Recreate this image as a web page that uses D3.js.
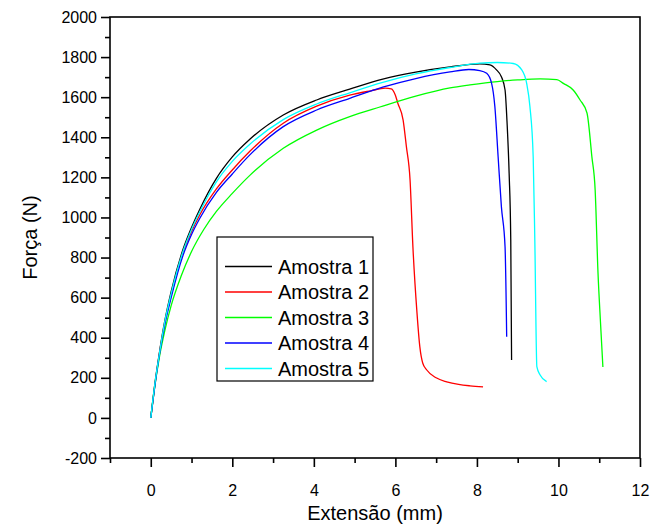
<!DOCTYPE html>
<html>
<head>
<meta charset="utf-8">
<script src="https://cdn.jsdelivr.net/npm/d3@7"></script>
<style>
  body { margin: 0; background: #fff; }
  svg { font-family: "Liberation Sans", Arial, sans-serif; }
</style>
</head>
<body>
<svg id="chart" width="650" height="527"></svg>
<script>
// series names and colours
var seriesNames = ["Amostra 1", "Amostra 2", "Amostra 3", "Amostra 4", "Amostra 5"];
var seriesColors = ["#000000", "#ff0000", "#00ff00", "#0000ff", "#00ffff"];

// [extensao (mm), forca (N)]
var amostra1 = [[0,0],[0.1,170],[0.2,310],[0.34,480],[0.5,630],[0.79,840],[1.0,950],[1.2,1040],[1.61,1195],
  [2.0,1302],[2.43,1390],[3.25,1511],[4.07,1586],[4.88,1640],[5.69,1690],[6.5,1725],[7.34,1751],[8.07,1766],
  [8.32,1761],[8.48,1736],[8.6,1702],[8.69,1636],[8.74,1470],[8.79,1220],[8.83,888],[8.85,289]];

var amostra2 = [[0,0],[0.1,165],[0.2,305],[0.35,480],[0.5,612],[0.79,825],[1.0,930],[1.2,1012],[1.61,1142],
  [2.0,1237],[2.43,1330],[3.25,1470],[4.07,1555],[4.88,1610],[5.4,1632],[5.75,1645],[5.9,1642],[6.0,1610],
  [6.06,1570],[6.19,1486],[6.27,1353],[6.36,1187],[6.43,853],[6.53,524],[6.6,354],[6.67,274],[6.77,239],
  [7.0,200],[7.26,180],[7.55,167],[7.83,160],[8.15,155]];

var amostra3 = [[0,0],[0.1,160],[0.2,290],[0.35,440],[0.5,560],[0.75,710],[1.0,830],[1.3,940],[1.61,1030],
  [2.0,1120],[2.43,1210],[3.25,1345],[4.07,1436],[4.88,1503],[5.62,1551],[6.5,1605],[7.34,1646],[7.83,1661],
  [8.5,1678],[9.0,1686],[9.55,1691],[9.96,1688],[10.12,1669],[10.36,1636],[10.53,1586],[10.7,1521],
  [10.82,1302],[10.9,1137],[10.97,723],[11.03,480],[11.09,254]];

var amostra4 = [[0,0],[0.1,160],[0.2,300],[0.35,470],[0.5,600],[0.79,810],[1.0,915],[1.2,995],[1.61,1125],
  [2.0,1217],[2.43,1312],[3.25,1453],[4.07,1536],[4.88,1594],[5.69,1650],[6.5,1693],[7.34,1726],[7.8,1738],
  [8.07,1733],[8.24,1719],[8.36,1669],[8.44,1553],[8.52,1303],[8.6,1054],[8.69,854],[8.73,405]];

var amostra5 = [[0,0],[0.1,168],[0.2,305],[0.34,475],[0.5,620],[0.79,830],[1.0,940],[1.2,1027],[1.61,1178],
  [2.0,1280],[2.43,1365],[3.25,1488],[4.07,1566],[4.88,1622],[5.69,1674],[6.5,1716],[7.34,1748],[8.07,1770],
  [8.5,1773],[8.89,1768],[9.1,1736],[9.22,1669],[9.3,1553],[9.38,1303],[9.42,888],[9.47,256],[9.55,214],[9.71,181]];

var seriesData = [amostra1, amostra2, amostra3, amostra4, amostra5];

// axis ticks
var xTicks = [0, 2, 4, 6, 8, 10, 12];
var xMinorTicks = [-1, 1, 3, 5, 7, 9, 11];
var yTicks = [-200, 0, 200, 400, 600, 800, 1000, 1200, 1400, 1600, 1800, 2000];
var yMinorTicks = [-100, 100, 300, 500, 700, 900, 1100, 1300, 1500, 1700, 1900];

var svg = d3.select("#chart");
var plotLeft = 110, plotRight = 640, plotTop = 17, plotBottom = 458;

var x = d3.scaleLinear().domain([-1, 12]).range([plotLeft, plotRight]);
var y = d3.scaleLinear().domain([-200, 2000]).range([plotBottom, plotTop]);

// curves
var line = d3.line()
  .x(function (d) { return x(d[0]); })
  .y(function (d) { return y(d[1]); })
  .curve(d3.curveMonotoneX);

svg.append("g").selectAll("path")
  .data(seriesData)
  .enter().append("path")
  .attr("d", line)
  .attr("fill", "none")
  .attr("stroke", function (d, i) { return seriesColors[i]; })
  .attr("stroke-width", 1.3);

// frame
svg.append("rect")
  .attr("x", plotLeft).attr("y", plotTop)
  .attr("width", plotRight - plotLeft).attr("height", plotBottom - plotTop)
  .attr("fill", "none").attr("stroke", "#000").attr("stroke-width", 1.6);

// plain hyphen for negatives, like the original
var fmt = function (d) { return String(d); };

// x axis
svg.append("g").attr("transform", "translate(0," + plotBottom + ")")
  .call(d3.axisBottom(x).tickValues(xTicks).tickSize(9).tickPadding(18).tickFormat(fmt));
svg.append("g").attr("transform", "translate(0," + plotBottom + ")")
  .call(d3.axisBottom(x).tickValues(xMinorTicks).tickSize(5).tickFormat(""));

// y axis
svg.append("g").attr("transform", "translate(" + plotLeft + ",0)")
  .call(d3.axisLeft(y).tickValues(yTicks).tickSize(9).tickPadding(4).tickFormat(fmt));
svg.append("g").attr("transform", "translate(" + plotLeft + ",0)")
  .call(d3.axisLeft(y).tickValues(yMinorTicks).tickSize(5).tickFormat(""));

svg.selectAll(".domain").remove();
svg.selectAll(".tick line").attr("stroke", "#000").attr("stroke-width", 1.6);
svg.selectAll(".tick text").attr("font-size", 16).attr("fill", "#000")
  .attr("font-family", "'Liberation Sans', Arial, sans-serif");

// axis titles
svg.append("text")
  .attr("x", (plotLeft + plotRight) / 2).attr("y", 520)
  .attr("text-anchor", "middle").attr("font-size", 20)
  .text("Extensão (mm)");

svg.append("text")
  .attr("transform", "translate(37," + ((plotTop + plotBottom) / 2) + ") rotate(-90)")
  .attr("text-anchor", "middle").attr("font-size", 20)
  .text("Força (N)");

// legend
var lg = svg.append("g");
lg.append("rect")
  .attr("x", 217).attr("y", 237).attr("width", 156).attr("height", 144)
  .attr("fill", "#fff").attr("stroke", "#000").attr("stroke-width", 1.2);

var rows = lg.selectAll("g.row")
  .data(seriesNames)
  .enter().append("g")
  .attr("class", "row")
  .attr("transform", function (d, i) { return "translate(0," + (266.5 + i * 25.5) + ")"; });

rows.append("line")
  .attr("x1", 225).attr("x2", 272)
  .attr("stroke", function (d, i) { return seriesColors[i]; })
  .attr("stroke-width", 1.3);

rows.append("text")
  .attr("x", 278).attr("y", 7)
  .attr("font-size", 20)
  .text(function (d) { return d; });
</script>
</body>
</html>
